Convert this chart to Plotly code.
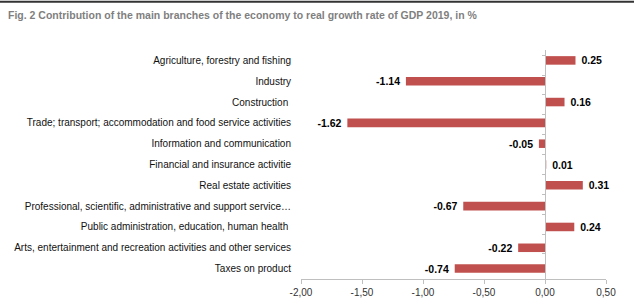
import plotly.graph_objects as go

categories = [
    "Agriculture, forestry and fishing",
    "Industry",
    "Construction\u00a0",
    "Trade; transport; accommodation and food service activities",
    "Information and communication",
    "Financial and insurance activitie",
    "Real estate activities",
    "Professional, scientific, administrative and support service…",
    "Public administration, education, human health\u00a0",
    "Arts, entertainment and recreation activities and other services",
    "Taxes on product",
]
values = [0.25, -1.14, 0.16, -1.62, -0.05, 0.01, 0.31, -0.67, 0.24, -0.22, -0.74]
x_tickvals = [-2.0, -1.5, -1.0, -0.5, 0.0, 0.5]
x_ticktext = ["-2,00", "-1,50", "-1,00", "-0,50", "0,00", "0,50"]
title_text = "Fig. 2 Contribution of the main branches of the economy to real growth rate of GDP 2019, in %"

W, H = 634, 304
ML, MR, MT, MB = 301, 28, 49.5, 24.5
PW = W - ML - MR
PH = H - MT - MB

labels = [("\u00a0" + f"{v:.2f}") if v >= 0 else (f"{v:.2f}" + "\u00a0") for v in values]

fig = go.Figure()
fig.add_trace(go.Bar(
    x=values, y=categories, orientation="h",
    marker=dict(color="#C0504D", line=dict(width=0)),
    text=labels, textposition="outside", cliponaxis=False, constraintext="none",
    textfont=dict(family="Liberation Sans, Arial, sans-serif", size=10.5, color="#000000", weight="bold"),
    hoverinfo="skip",
))
# invisible trace to drive the zero-position category axis with boundary ticks
fig.add_trace(go.Scatter(
    x=[0] * len(categories), y=categories, yaxis="y2", mode="markers",
    marker=dict(opacity=0), showlegend=False, hoverinfo="skip",
))

x0_frac = (0 - (-2.0)) / 2.5

fig.update_layout(
    width=W, height=H,
    margin=dict(l=ML, r=MR, t=MT, b=MB, pad=0, autoexpand=False),
    paper_bgcolor="white", plot_bgcolor="white",
    showlegend=False,
    bargap=0.59,
    font=dict(family="Liberation Sans, Arial, sans-serif", size=10, color="#222222"),
    title=dict(
        text="<b>" + title_text + "</b>",
        x=0, xref="container", xanchor="left", pad=dict(l=8),
        y=1 - 15 / H, yref="container", yanchor="middle",
        font=dict(family="Liberation Sans, Arial, sans-serif", size=10.5, color="#7F7F7F"),
    ),
    xaxis=dict(
        range=[-2.0, 0.5], tickvals=x_tickvals, ticktext=x_ticktext,
        showgrid=False, zeroline=False, showline=True, linecolor="#BFBFBF", linewidth=1,
        ticks="outside", ticklen=4, tickcolor="#BFBFBF",
        tickfont=dict(size=10, color="#333333"),
        automargin=False,
    ),
    yaxis=dict(
        autorange="reversed", showgrid=False, zeroline=False, showline=False,
        ticks="", ticklabelstandoff=9, automargin=False,
        tickfont=dict(size=10, color="#111111"),
    ),
    yaxis2=dict(
        overlaying="y", anchor="free", position=x0_frac, side="left",
        autorange="reversed", showgrid=False, zeroline=False,
        showline=True, linecolor="#BFBFBF", linewidth=1,
        ticks="outside", ticklen=3, tickcolor="#BFBFBF", tickson="boundaries",
        showticklabels=False, type="category", automargin=False,
    ),
    shapes=[dict(
        type="line", xref="paper", yref="paper",
        x0=-ML / PW, x1=1 + MR / PW,
        y0=1 + (MT - 1) / PH, y1=1 + (MT - 1) / PH,
        line=dict(color="#333333", width=2),
    )],
)

fig.write_html(
    "out.html",
    config={"displayModeBar": False, "staticPlot": True},
    post_script="document.body.style.margin='0px';document.body.style.overflow='hidden';",
)
